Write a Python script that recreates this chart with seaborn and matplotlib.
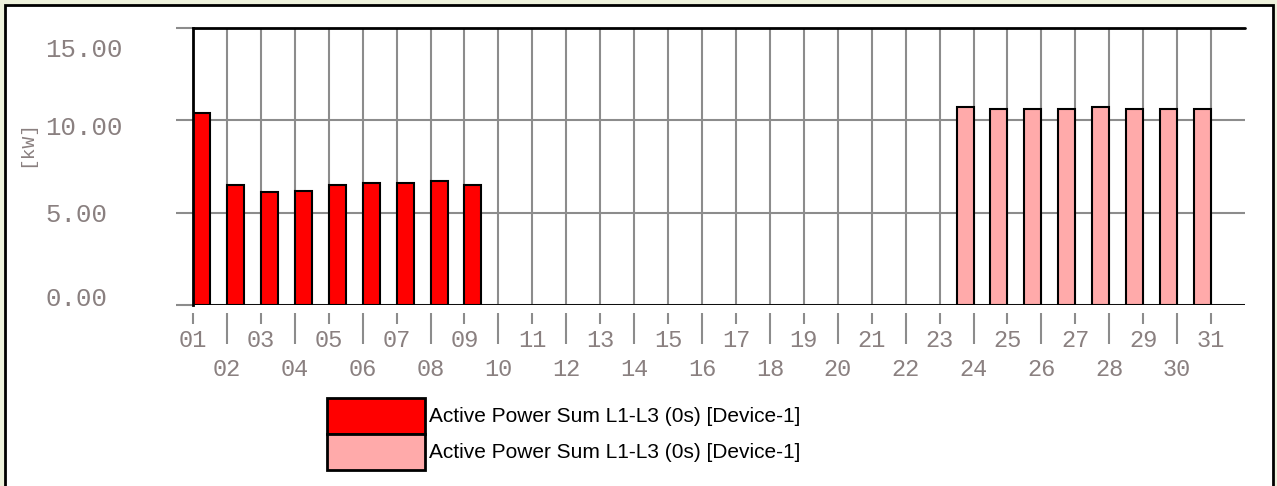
import matplotlib
matplotlib.use("Agg")
import matplotlib.pyplot as plt
import matplotlib.transforms as mtransforms
from matplotlib.patches import Rectangle
import numpy as np
import pandas as pd
import seaborn as sns

# dados
days = list(range(1, 32))
day_labels = [f"{d:02d}" for d in days]
current_days = [1, 2, 3, 4, 5, 6, 7, 8, 9]
current_kw = [10.4, 6.5, 6.1, 6.2, 6.5, 6.6, 6.6, 6.7, 6.5]
previous_days = [24, 25, 26, 27, 28, 29, 30, 31]
previous_kw = [10.7, 10.6, 10.6, 10.6, 10.7, 10.6, 10.6, 10.6]
y_ticks = [0, 5, 10, 15]
y_tick_labels = ["0.00", "5.00", "10.00", "15.00"]
series_label = "Active Power Sum L1-L3 (0s) [Device-1]"

df_cur = pd.DataFrame({"day": current_days, "kw": current_kw})
df_prev = pd.DataFrame({"day": previous_days, "kw": previous_kw})

sns.set_style("white")
plt.rcParams["font.family"] = ["Liberation Sans", "DejaVu Sans"]

W, H = 1277, 486
fig = plt.figure(figsize=(W / 100, H / 100), dpi=100)
fig.patch.set_facecolor("#eef2dc")
# caixa branca com borda preta (fica atrás dos eixos)
fig.patches.append(Rectangle((4.5 / W, -0.01), (1272.5 - 4.5) / W, 1 - 4.5 / H + 0.01,
                             transform=fig.transFigure, facecolor="white",
                             edgecolor="black", linewidth=2, zorder=-5))

ax = fig.add_axes([193 / W, 1 - 305 / H, (1245 - 193) / W, (305 - 28) / H])
ax.set_facecolor("white")

red = "#ff0000"
pink = "#ffaaaa"
bw = 0.5

ax.bar(df_cur["day"], df_cur["kw"], width=bw, align="edge", color=red,
       edgecolor="black", linewidth=1.5, zorder=3)
ax.bar(df_prev["day"], df_prev["kw"], width=-bw, align="edge", color=pink,
       edgecolor="black", linewidth=1.5, zorder=3)

ax.set_xlim(1, 32)
ax.set_ylim(0, 15)

# grade
gray = "#8c8c8c"
ax.set_xticks(days[::2])
ax.set_xticks(days[1::2], minor=True)
ax.set_xticklabels(day_labels[::2])
ax.set_xticklabels(day_labels[1::2], minor=True)
ax.grid(which="both", axis="x", color=gray, linewidth=1.5, zorder=1)
ax.set_yticks(y_ticks)
ax.set_yticklabels(y_tick_labels)
ax.grid(which="major", axis="y", color=gray, linewidth=1.5, zorder=1)
ax.axhline(0, color="black", linewidth=2, zorder=4)
ax.axhline(15, color="black", linewidth=2, zorder=4, clip_on=False)

for s in ["right", "top"]:
    ax.spines[s].set_visible(False)
ax.spines["left"].set_color("black")
ax.spines["left"].set_linewidth(2)
ax.spines["left"].set_zorder(4)
ax.spines["bottom"].set_position(("outward", 6))
ax.spines["bottom"].set_visible(False)

mono = "Liberation Mono"
tick_color = "#8a8080"
ax.tick_params(axis="x", which="major", bottom=True, length=8, width=1.5, color=gray,
               pad=3, labelsize=17, labelcolor=tick_color, labelfontfamily=mono)
ax.tick_params(axis="x", which="minor", bottom=True, length=22, width=1.5, color=gray,
               pad=10, labelsize=17, labelcolor=tick_color, labelfontfamily=mono)
ax.tick_params(axis="y", which="major", left=True, length=12.2, width=1.5, color=gray,
               pad=94, labelsize=18.5, labelcolor=tick_color, labelfontfamily=mono)
y_shift = {"15.00": -19, "10.00": -5, "5.00": 0, "0.00": 8}
for lab in ax.get_yticklabels():
    lab.set_horizontalalignment("left")
    dy = y_shift.get(lab.get_text(), 0)
    lab.set_transform(lab.get_transform() +
                      mtransforms.ScaledTranslation(0, dy / 100, fig.dpi_scale_trans))

fig.text(27 / W, 1 - 143 / H, "[kW]", rotation=90, ha="center", va="center",
         fontsize=14, color=tick_color, family=mono)

# legenda
h1 = Rectangle((0, 0), 1, 1, facecolor=red, edgecolor="black", linewidth=2)
h2 = Rectangle((0, 0), 1, 1, facecolor=pink, edgecolor="black", linewidth=2)
fs = 15
hh_pt = 36 * 0.72
hh = (hh_pt / fs - 0.245) / 0.65
leg = fig.legend([h1, h2], [series_label, series_label], loc="upper left",
                 bbox_to_anchor=(327 / W, 1 - 398 / H), frameon=False,
                 fontsize=fs, handlelength=98 * 0.72 / fs,
                 handleheight=hh, labelspacing=0, labelcolor="black",
                 handletextpad=0.2, borderpad=0, borderaxespad=0)

fig.savefig("out.png", dpi=100, facecolor=fig.get_facecolor())
